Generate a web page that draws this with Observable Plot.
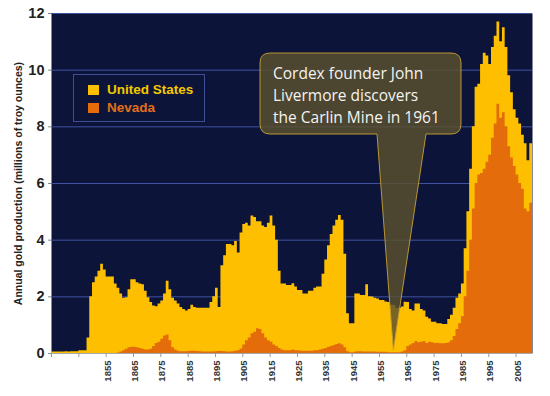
<!DOCTYPE html>
<html>
<head>
<meta charset="utf-8">
<script src="https://cdn.jsdelivr.net/npm/d3@7"></script>
<script src="https://cdn.jsdelivr.net/npm/@observablehq/plot@0.6"></script>
<style>
  html, body { margin: 0; padding: 0; background: #ffffff; }
  #wrap { position: relative; width: 550px; height: 396px; }
  #legend {
    position: absolute; left: 73px; top: 74px; width: 132px; height: 48px;
    border: 1px solid #3e4f96; box-sizing: border-box;
    font-family: "Liberation Sans", Arial, sans-serif; font-weight: bold; font-size: 13.5px;
  }
  #legend .item { position: absolute; left: 14px; height: 14px; line-height: 14px; white-space: nowrap; }
  #legend .sw { display: inline-block; width: 11px; height: 10px; vertical-align: -1px; margin-right: 8px; }
</style>
</head>
<body>
<div id="wrap"></div>
<script>
// ---- data ----
const firstYear = 1835;
const seriesNames = ["United States", "Nevada"];
const seriesColors = ["#fdbf00", "#e46c0a"];
const legendTextColors = ["#f3c800", "#e2701a"];

// US annual gold production (millions of troy ounces), 1835..2010
const usValues = [
  0.05,0.05,0.05,0.05,0.05,0.06,0.05,0.06,0.06,0.06,
  0.10,0.10,0.10,0.55,2.00,2.50,2.70,2.90,3.15,2.95,
  2.70,2.70,2.70,2.45,2.30,2.10,1.95,1.97,2.25,2.60,
  2.60,2.50,2.45,2.43,2.20,1.97,1.80,1.68,1.65,1.75,
  1.85,2.10,2.55,2.25,1.95,1.85,1.75,1.62,1.55,1.50,
  1.55,1.70,1.62,1.60,1.60,1.60,1.60,1.60,1.80,2.00,
  2.30,1.62,3.10,3.45,3.85,3.85,3.80,3.95,3.55,4.25,
  4.55,4.60,4.50,4.85,4.80,4.65,4.65,4.50,4.45,4.60,
  4.85,4.50,4.00,2.90,2.45,2.45,2.40,2.40,2.46,2.35,
  2.22,2.22,2.10,2.10,2.20,2.20,2.30,2.35,2.35,2.80,
  3.30,3.80,4.20,4.50,4.70,4.87,4.70,3.50,1.40,1.05,
  1.05,2.10,2.10,2.05,2.05,2.43,2.00,1.99,1.95,1.92,
  1.87,1.87,1.82,1.80,1.70,1.70,1.60,1.60,1.64,1.81,
  1.80,1.55,1.50,1.75,1.75,1.55,1.50,1.28,1.22,1.10,
  1.10,1.05,1.05,1.02,1.02,1.20,1.35,1.60,1.95,2.10,
  2.45,3.70,5.00,6.50,8.00,9.40,9.50,10.20,10.60,10.50,
  10.20,10.80,11.20,11.70,11.00,11.50,10.80,9.80,9.20,8.60,
  8.30,8.10,7.70,7.40,6.80,7.40
];

// Nevada annual gold production (millions of troy ounces), 1835..2010
const nvValues = [
  0,0,0,0,0,0,0,0,0,0,
  0,0,0,0,0,0,0,0,0,0,
  0,0,0,0,0.02,0.05,0.10,0.15,0.20,0.22,
  0.22,0.20,0.18,0.15,0.12,0.12,0.15,0.25,0.35,0.40,
  0.50,0.62,0.65,0.45,0.20,0.12,0.08,0.06,0.06,0.06,
  0.07,0.08,0.08,0.07,0.06,0.05,0.05,0.05,0.05,0.05,
  0.06,0.07,0.07,0.06,0.05,0.05,0.06,0.08,0.10,0.16,
  0.30,0.45,0.55,0.70,0.75,0.87,0.85,0.70,0.55,0.45,
  0.40,0.30,0.25,0.18,0.12,0.10,0.10,0.10,0.12,0.10,
  0.10,0.08,0.08,0.08,0.08,0.08,0.10,0.10,0.12,0.15,
  0.18,0.22,0.25,0.28,0.32,0.34,0.30,0.20,0.06,0.03,
  0.03,0.05,0.06,0.06,0.05,0.05,0.05,0.05,0.05,0.04,
  0.04,0.04,0.04,0.03,0.03,0.03,0.03,0.03,0.05,0.10,
  0.25,0.30,0.35,0.42,0.38,0.40,0.42,0.35,0.40,0.38,
  0.35,0.36,0.34,0.34,0.35,0.38,0.45,0.60,0.85,1.05,
  1.30,2.00,2.90,4.00,5.10,6.00,6.30,6.35,6.50,6.75,
  7.00,7.60,8.10,8.80,8.30,8.50,8.00,7.30,6.90,6.60,
  6.30,6.00,5.80,5.10,5.00,5.30
];

const yTicks = [0, 2, 4, 6, 8, 10, 12];
const xTickMarks = [1835,1845,1855,1865,1875,1885,1895,1905,1915,1925,1935,1945,1955,1965,1975,1985,1995,2005];
const xTickLabels = [1855,1865,1875,1885,1895,1905,1915,1925,1935,1945,1955,1965,1975,1985,1995,2005];
const yAxisTitle = "Annual gold production (millions of troy ounces)";
const calloutLines = ["Cordex founder John", "Livermore discovers", "the Carlin Mine in 1961"];
const calloutYear = 1960.25;

// ---- table ----
const rows = usValues.map((v, i) => ({year: firstYear + i, us: v, nv: nvValues[i]}));
const last = rows[rows.length - 1];
rows.push({year: last.year + 1, us: last.us, nv: last.nv}); // close the final step
const lastYear = last.year + 1;

const plot = Plot.plot({
  width: 550,
  height: 396,
  marginLeft: 51,
  marginRight: 18,
  marginTop: 13,
  marginBottom: 43,
  style: {fontFamily: "'Liberation Sans', Arial, sans-serif", background: "#ffffff", overflow: "visible"},
  x: {domain: [firstYear, lastYear]},
  y: {domain: [0, 12]},
  marks: [
    Plot.frame({fill: "#0d1439", stroke: null}),
    Plot.gridY(yTicks.filter(d => d > 0), {stroke: "#3f52a2", strokeOpacity: 1, strokeWidth: 1}),
    Plot.areaY(rows, {x: "year", y: "us", curve: "step-after", fill: seriesColors[0]}),
    Plot.areaY(rows, {x: "year", y: "nv", curve: "step-after", fill: seriesColors[1]}),
    Plot.ruleY([0], {stroke: "#b0b0b0", strokeWidth: 0.8}),
    Plot.axisY({ticks: yTicks, tickSize: 3, tickPadding: 4, fontSize: 14.5, fontWeight: "bold",
                fill: "#222", stroke: "#8a8a8a", label: null}),
    Plot.axisX({ticks: xTickMarks, tickSize: 4, stroke: "#9a9a9a", tickFormat: () => "", label: null}),
    Plot.axisX({ticks: xTickLabels.map(d => d + 0.5), tickFormat: d => String(Math.round(d - 0.5)),
                tickRotate: -90, tickSize: 0, tickPadding: 7, fontSize: 9.5, fontWeight: "bold",
                fill: "#333", label: null}),
    Plot.text([yAxisTitle], {frameAnchor: "left", textAnchor: "middle", rotate: -90, dx: -33, fontSize: 10.5,
                fontWeight: "bold", fill: "#222", text: d => d})
  ]
});

document.getElementById("wrap").appendChild(plot);

// ---- callout (speech bubble) anchored at the Carlin discovery year ----
const sx = plot.scale("x"), sy = plot.scale("y");
const svg = d3.select(plot);
const bx0 = 260, bx1 = 461, by0 = 53, by1 = 134, r = 10;
const tipX = sx.apply(calloutYear), tipY = sy.apply(0.1);
const px1 = bx0 + 117, px2 = bx0 + 166;
const path = [
  `M${bx0 + r},${by0}`, `L${bx1 - r},${by0}`, `Q${bx1},${by0} ${bx1},${by0 + r}`,
  `L${bx1},${by1 - r}`, `Q${bx1},${by1} ${bx1 - r},${by1}`,
  `L${px2},${by1}`, `L${tipX},${tipY}`, `L${px1},${by1}`,
  `L${bx0 + r},${by1}`, `Q${bx0},${by1} ${bx0},${by1 - r}`,
  `L${bx0},${by0 + r}`, `Q${bx0},${by0} ${bx0 + r},${by0}`, "Z"
].join(" ");
svg.append("path").attr("d", path)
  .attr("fill", "rgb(90,80,46)").attr("fill-opacity", 0.82)
  .attr("stroke", "#c9a233").attr("stroke-width", 0.9);
const t = svg.append("text")
  .attr("font-family", "'Open Sans', 'Noto Sans', sans-serif")
  .attr("text-anchor", "start")
  .attr("font-size", 15.5).attr("fill", "#f4f4f0");
calloutLines.forEach((line, i) => {
  t.append("tspan").attr("x", bx0 + 13).attr("y", by0 + 26 + i * 22).text(line);
});

// ---- legend ----
const legend = document.createElement("div");
legend.id = "legend";
seriesNames.forEach((name, i) => {
  const it = document.createElement("div");
  it.className = "item";
  it.style.top = (8 + i * 18) + "px";
  it.style.color = legendTextColors[i];
  const sw = document.createElement("span");
  sw.className = "sw";
  sw.style.background = seriesColors[i];
  it.appendChild(sw);
  it.appendChild(document.createTextNode(name));
  legend.appendChild(it);
});
document.getElementById("wrap").appendChild(legend);
</script>
</body>
</html>
